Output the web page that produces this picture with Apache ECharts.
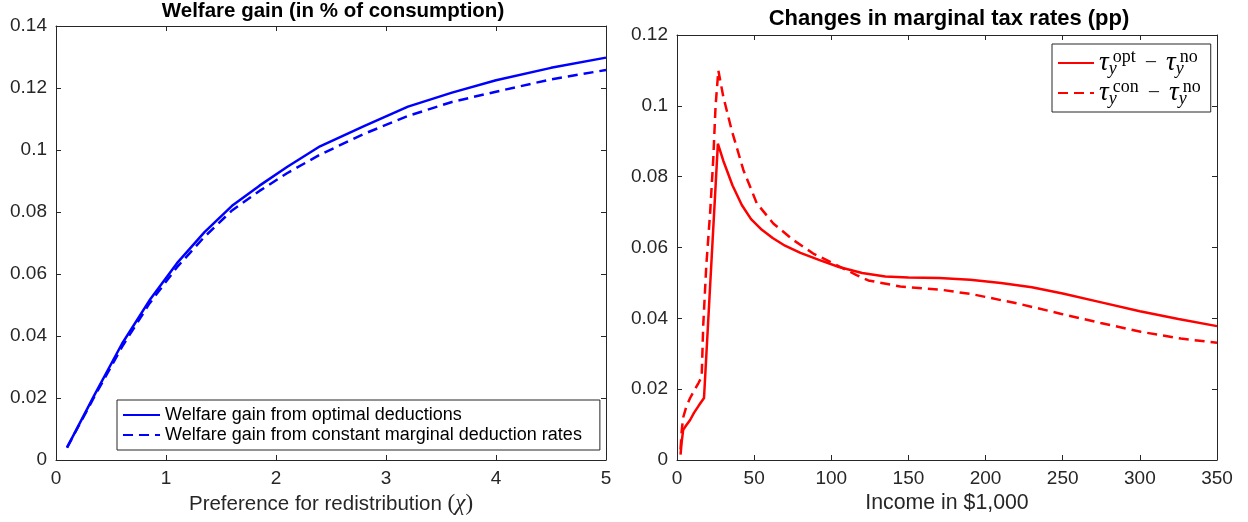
<!DOCTYPE html>
<html>
<head>
<meta charset="utf-8">
<script src="https://cdn.jsdelivr.net/npm/echarts@6/dist/echarts.min.js"></script>
<style>
  html, body { margin: 0; padding: 0; background: #fff; }
  #chart { width: 1248px; height: 522px; }
</style>
</head>
<body>
<div id="chart"></div>
<script>
// left panel: welfare gain vs preference for redistribution
var chiVals = [0.1, 0.35, 0.6, 0.85, 1.1, 1.35, 1.6, 1.85, 2.1, 2.4, 2.8, 3.2, 3.6, 4.0, 4.5, 5.0];
var gainOpt = [0.004, 0.021, 0.0375, 0.0515, 0.0635, 0.0735, 0.082, 0.0885, 0.0945, 0.1012, 0.1077, 0.114, 0.1185, 0.1225, 0.1265, 0.1298];
var gainCon = [0.004, 0.0205, 0.0365, 0.0505, 0.0622, 0.072, 0.0805, 0.0868, 0.0925, 0.0985, 0.1052, 0.111, 0.1155, 0.1188, 0.1228, 0.1258];

// right panel: changes in marginal tax rates by income
var incomeOpt = [2.3, 3, 4, 6, 8.5, 11, 14, 17.5, 26.5, 30, 36, 42, 48, 55, 62, 70, 80, 92, 105, 120, 135, 150, 170, 190, 210, 230, 250, 275, 300, 325, 350];
var dTauOpt = [0.0015, 0.005, 0.0085, 0.0098, 0.0113, 0.0133, 0.0153, 0.0175, 0.0893, 0.0845, 0.0775, 0.072, 0.068, 0.065, 0.0627, 0.0605, 0.0585, 0.0565, 0.0545, 0.0528, 0.0518, 0.0515, 0.0514, 0.0509, 0.05, 0.0488, 0.047, 0.0445, 0.042, 0.0398, 0.0378];
var incomeCon = [2.3, 3, 4, 6, 8.5, 11, 14, 16, 17, 19, 21.5, 23.5, 25, 26.8, 30, 35.4, 43, 51.7, 62.4, 75.4, 88.3, 101.3, 116.4, 124, 144.7, 170.7, 191.5, 222.7, 248.6, 274.6, 300.6, 326.6, 350];
var dTauCon = [0.003, 0.008, 0.012, 0.015, 0.0175, 0.0195, 0.0218, 0.0235, 0.038, 0.055, 0.07, 0.085, 0.1, 0.11, 0.1026, 0.0932, 0.0819, 0.0725, 0.0668, 0.0621, 0.0583, 0.0555, 0.0522, 0.0507, 0.049, 0.0481, 0.0468, 0.044, 0.0413, 0.0387, 0.0362, 0.0343, 0.0331];

var leftTicksX = [0, 5, 1];
var leftTicksY = [0, 0.14, 0.02];
var rightTicksX = [0, 350, 50];
var rightTicksY = [0, 0.12, 0.02];

function zip(xs, ys) {
  return xs.map(function (x, i) { return [x, ys[i]]; });
}

var axisColor = '#262626';
var sans = 'Liberation Sans, Arial, Helvetica, sans-serif';
var serif = 'Liberation Serif, Times New Roman, serif';

function mkAxis(gridIndex, ticks, pos, withLabels, extra) {
  var ax = {
    type: 'value', gridIndex: gridIndex, position: pos,
    min: ticks[0], max: ticks[1], interval: ticks[2],
    axisLine: { show: true, onZero: false, lineStyle: { color: axisColor, width: 1 } },
    axisTick: { show: true, inside: true, length: 5, lineStyle: { color: axisColor } },
    splitLine: { show: false },
    axisLabel: {
      show: withLabels, color: axisColor, fontFamily: sans, fontSize: 19, margin: 9,
      formatter: function (v) { return String(+v.toFixed(4)); }
    }
  };
  for (var k in extra) ax[k] = extra[k];
  return ax;
}

var tauRich = {
  tau: { fontFamily: serif, fontStyle: 'italic', fontSize: 27, color: '#000', lineHeight: 30 },
  sub: { fontFamily: serif, fontStyle: 'italic', fontSize: 18, color: '#000', verticalAlign: 'bottom', lineHeight: 30, width: 4 },
  sup: { fontFamily: serif, fontSize: 18, color: '#000', verticalAlign: 'top', lineHeight: 30 },
  op: { fontFamily: serif, fontSize: 22, color: axisColor, padding: [0, 9, 0, 9], lineHeight: 30 }
};
var tauLabels = {
  'opt': '{tau|τ}{sub|y}{sup|opt}{op|−}{tau|τ}{sub|y}{sup|no}',
  'con': '{tau|τ}{sub|y}{sup|con}{op|−}{tau|τ}{sub|y}{sup|no}'
};

var chart = echarts.init(document.getElementById('chart'), null, { renderer: 'canvas' });

var option = {
  animation: false,
  backgroundColor: '#fff',
  title: [
    { text: 'Welfare gain (in % of consumption)', left: 333, top: 1, textAlign: 'center', padding: 0,
      textStyle: { fontFamily: sans, fontWeight: 'bold', fontSize: 20.5, color: '#000' } },
    { text: 'Changes in marginal tax rates (pp)', left: 949, top: 8, textAlign: 'center', padding: 0,
      textStyle: { fontFamily: sans, fontWeight: 'bold', fontSize: 22, color: '#000' } }
  ],
  grid: [
    { left: 56, top: 26, width: 550, height: 434 },
    { left: 677, top: 35, width: 540, height: 425 }
  ],
  xAxis: [
    mkAxis(0, leftTicksX, 'bottom', true, {
      name: 'Preference for redistribution {p|(}{c|χ}{p|)}', nameLocation: 'middle', nameGap: 31,
      nameTextStyle: { fontFamily: sans, fontSize: 20.5, color: axisColor,
        rich: { c: { fontFamily: serif, fontStyle: 'italic', fontSize: 23, color: axisColor },
                p: { fontFamily: serif, fontSize: 23, color: axisColor } } }
    }),
    mkAxis(0, leftTicksX, 'top', false, {}),
    mkAxis(1, rightTicksX, 'bottom', true, {
      name: 'Income in $1,000', nameLocation: 'middle', nameGap: 31,
      nameTextStyle: { fontFamily: sans, fontSize: 21.3, color: axisColor }
    }),
    mkAxis(1, rightTicksX, 'top', false, {})
  ],
  yAxis: [
    mkAxis(0, leftTicksY, 'left', true, {}),
    mkAxis(0, leftTicksY, 'right', false, {}),
    mkAxis(1, rightTicksY, 'left', true, {}),
    mkAxis(1, rightTicksY, 'right', false, {})
  ],
  legend: [
    {
      data: ['Welfare gain from optimal deductions', 'Welfare gain from constant marginal deduction rates'],
      orient: 'vertical', left: 117, top: 400,
      itemWidth: 37, itemHeight: 14, itemGap: 2,
      padding: [6, 18, 6, 5],
      itemStyle: { opacity: 0 },
      backgroundColor: '#fff', borderColor: axisColor, borderWidth: 1,
      textStyle: { fontFamily: sans, fontSize: 18, color: '#000', lineHeight: 18 }
    },
    {
      data: ['opt', 'con'],
      orient: 'vertical', left: 1052, top: 44,
      itemWidth: 36, itemHeight: 14, itemGap: 0,
      padding: [4, 10, 4, 5],
      itemStyle: { opacity: 0 },
      backgroundColor: '#fff', borderColor: axisColor, borderWidth: 1,
      formatter: function (name) { return tauLabels[name]; },
      textStyle: { rich: tauRich }
    }
  ],
  series: [
    { name: 'Welfare gain from optimal deductions', type: 'line', xAxisIndex: 0, yAxisIndex: 0,
      data: zip(chiVals, gainOpt), symbol: 'none', color: '#0000ff',
      lineStyle: { color: '#0000ff', width: 2.5 } },
    { name: 'Welfare gain from constant marginal deduction rates', type: 'line', xAxisIndex: 0, yAxisIndex: 0,
      data: zip(chiVals, gainCon), symbol: 'none', color: '#0000ff',
      lineStyle: { color: '#0000ff', width: 2.5, type: [10, 6] } },
    { name: 'opt', type: 'line', xAxisIndex: 2, yAxisIndex: 2,
      data: zip(incomeOpt, dTauOpt), symbol: 'none', color: '#ff0000',
      lineStyle: { color: '#ff0000', width: 2.5 } },
    { name: 'con', type: 'line', xAxisIndex: 2, yAxisIndex: 2,
      data: zip(incomeCon, dTauCon), symbol: 'none', color: '#ff0000',
      lineStyle: { color: '#ff0000', width: 2.5, type: [10, 6] } }
  ]
};

chart.setOption(option);
</script>
</body>
</html>
